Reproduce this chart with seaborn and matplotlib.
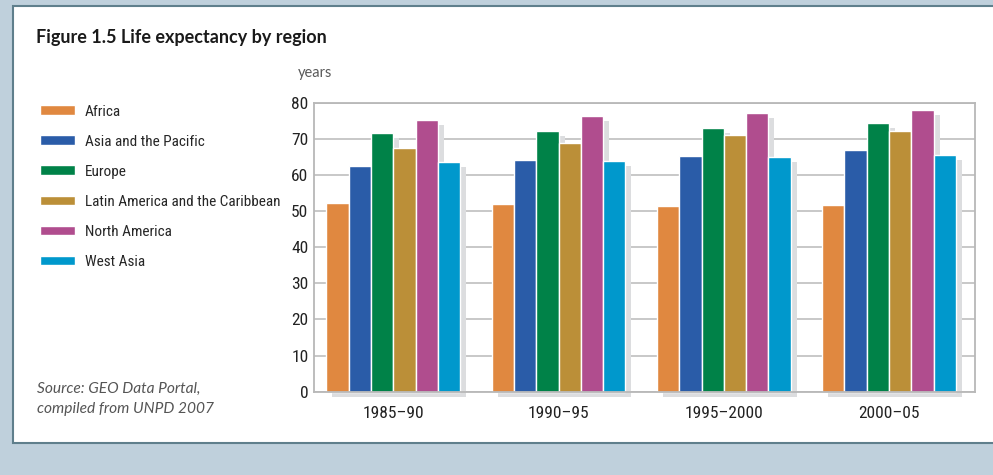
import matplotlib
matplotlib.use("Agg")
import matplotlib.pyplot as plt
import matplotlib.patheffects as pe
from matplotlib.patches import Rectangle
from matplotlib import font_manager
import seaborn as sns
import pandas as pd

periods = ["1985\u201390", "1990\u201395", "1995\u20132000", "2000\u201305"]
regions = ["Africa", "Asia and the Pacific", "Europe",
           "Latin America and the Caribbean", "North America", "West Asia"]
africa = [52.2, 52.0, 51.4, 51.7]
asia_pacific = [62.5, 64.2, 65.3, 66.9]
europe = [71.5, 72.2, 73.1, 74.3]
latin_america = [67.4, 68.8, 71.0, 72.2]
north_america = [75.2, 76.2, 77.1, 77.9]
west_asia = [63.7, 63.9, 65.0, 65.5]
colors = ["#e08840", "#2a5ca8", "#008248", "#bb8f38", "#b04d8e", "#0098cc"]

series = [africa, asia_pacific, europe, latin_america, north_america, west_asia]
rows = []
for reg, vals in zip(regions, series):
    for p, v in zip(periods, vals):
        rows.append({"period": p, "region": reg, "value": v})
df = pd.DataFrame(rows)

sns.set_theme(style="white")

# pick a narrow font if available
fonts = font_manager.fontManager.ttflist
names = {f.name for f in fonts}
stretch = "normal"
cond = None
for cand in ["Liberation Sans Narrow", "Roboto Condensed", "Open Sans Condensed"]:
    if cand in names:
        cond = cand
        break
if cond is None:
    cond = "DejaVu Sans"
    if any(f.name == "DejaVu Sans" and f.stretch in ("condensed", 300)
           for f in fonts):
        stretch = "condensed"
plt.rcParams["font.family"] = [cond, "DejaVu Sans"]
plt.rcParams["font.stretch"] = stretch
narrow = cond != "DejaVu Sans"
TS = 12.5 if narrow else 10.5   # tick size
LS = 11 if narrow else 9.5      # legend size
LPX = LS * 100 / 72

W, H = 993, 475
fig = plt.figure(figsize=(W / 100, H / 100), dpi=100)
fig.patch.set_facecolor("#bfd0dc")

fig.add_artist(Rectangle((13 / W, 1 - 443 / H), 1.2, (443 - 6) / H,
                         transform=fig.transFigure, facecolor="white",
                         edgecolor="#5f7f8c", linewidth=1.5, zorder=0))

ax = fig.add_axes([314 / W, 1 - 391.7 / H, (975 - 314) / W, (391.7 - 102.7) / H])
ax.set_facecolor("white")
ax.set_zorder(2)

sns.barplot(data=df, x="period", y="value", hue="region", palette=colors,
            hue_order=regions, order=periods, width=0.81, saturation=1,
            edgecolor="white", linewidth=1.0, ax=ax)

shadow = [pe.SimplePatchShadow(offset=(4.3, -3.6), shadow_rgbFace="#dcdddf", alpha=1.0),
          pe.Normal()]
for c in ax.containers:
    for bar in c:
        bar.set_path_effects(shadow)
        bar.set_clip_on(False)

ax.set_ylim(0, 80)
ax.set_xlim(-0.48, 3.52)
ax.set_yticks(range(0, 81, 10))
ax.yaxis.grid(True, color="#c4c4c4", linewidth=1.3)
ax.set_axisbelow(True)
for s in ax.spines.values():
    s.set_color("#b8b8b8")
    s.set_linewidth(1.3)
ax.tick_params(axis="both", length=0, labelsize=TS, colors="#222222")
ax.tick_params(axis="y", pad=4)
ax.tick_params(axis="x", pad=10)
ax.set_xlabel("")
ax.set_ylabel("")

sns.move_legend(ax, loc="upper left", bbox_to_anchor=(40 / W, 1 - 104.5 / H),
                bbox_transform=fig.transFigure, frameon=False, title=None,
                fontsize=LS, handlelength=35 / LPX, handleheight=0.6,
                labelspacing=(29.1 - 13) / LPX, borderaxespad=0,
                handletextpad=10 / LPX, borderpad=0)

fig.text(36 / W, 1 - 37 / H, "Figure 1.5 Life expectancy by region",
         fontsize=13, fontweight="bold", family=["Lato", "DejaVu Sans"],
         color="#1a1a1a", va="center", ha="left")
fig.text(298 / W, 1 - 73 / H, "years", fontsize=10.5,
         family=["Lato", "DejaVu Sans"], color="#5a5a5a", va="center", ha="left")
fig.text(37 / W, 1 - 389 / H, "Source: GEO Data Portal,", fontsize=11.2,
         family=["Lato", "DejaVu Sans"], style="italic",
         color="#555555", va="center", ha="left")
fig.text(37 / W, 1 - 409 / H, "compiled from UNPD 2007", fontsize=11.2,
         family=["Lato", "DejaVu Sans"], style="italic",
         color="#555555", va="center", ha="left")

fig.savefig("out.png", dpi=100, facecolor=fig.get_facecolor())
